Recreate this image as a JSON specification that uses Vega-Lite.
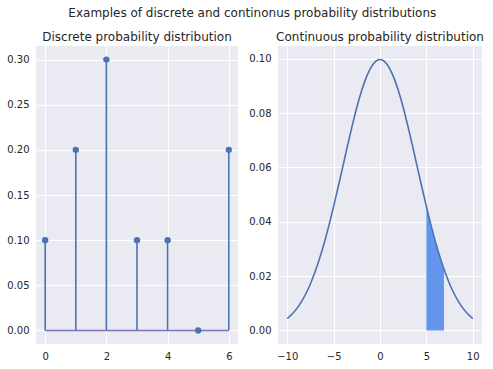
{
  "$schema": "https://vega.github.io/schema/vega-lite/v6.json",
  "padding": {"left": 6, "top": 7, "right": 0, "bottom": 0},
  "background": "white",
  "title": {"text": "Examples of discrete and continonus probability distributions", "anchor": "middle", "frame": "bounds", "fontSize": 12, "font": "DejaVu Sans", "fontWeight": "normal", "color": "#262626", "offset": 11, "dx": 7},
  "config": {
    "font": "DejaVu Sans",
    "view": {"fill": "#EAEAF2", "stroke": null},
    "axis": {"domain": false, "ticks": false, "grid": true, "gridColor": "white", "gridWidth": 1, "labelFontSize": 10, "labelColor": "#262626", "labelPadding": 7, "title": null, "labelFont": "DejaVu Sans"},
    "title": {"fontSize": 12, "fontWeight": "normal", "color": "#262626", "offset": 2, "font": "DejaVu Sans"}
  },
  "datasets": {
    "pmf": [
      {"k": 0, "p": 0.1}, {"k": 1, "p": 0.2}, {"k": 2, "p": 0.3}, {"k": 3, "p": 0.1},
      {"k": 4, "p": 0.1}, {"k": 5, "p": 0.0}, {"k": 6, "p": 0.2}
    ],
    "pdf": [
      {"x": -10, "y": 0.00438}, {"x": -9.5, "y": 0.00594}, {"x": -9, "y": 0.00793}, {"x": -8.5, "y": 0.01043},
      {"x": -8, "y": 0.0135}, {"x": -7.5, "y": 0.0172}, {"x": -7, "y": 0.02157}, {"x": -6.5, "y": 0.02663},
      {"x": -6, "y": 0.03238}, {"x": -5.5, "y": 0.03875}, {"x": -5, "y": 0.04566}, {"x": -4.5, "y": 0.05297},
      {"x": -4, "y": 0.06049}, {"x": -3.5, "y": 0.06802}, {"x": -3, "y": 0.07528}, {"x": -2.5, "y": 0.08204},
      {"x": -2, "y": 0.08802}, {"x": -1.5, "y": 0.09296}, {"x": -1, "y": 0.09667}, {"x": -0.5, "y": 0.09896},
      {"x": 0, "y": 0.09974},
      {"x": 0.5, "y": 0.09896}, {"x": 1, "y": 0.09667}, {"x": 1.5, "y": 0.09296}, {"x": 2, "y": 0.08802},
      {"x": 2.5, "y": 0.08204}, {"x": 3, "y": 0.07528}, {"x": 3.5, "y": 0.06802}, {"x": 4, "y": 0.06049},
      {"x": 4.5, "y": 0.05297}, {"x": 5, "y": 0.04566}, {"x": 5.5, "y": 0.03875}, {"x": 6, "y": 0.03238},
      {"x": 6.5, "y": 0.02663}, {"x": 7, "y": 0.02157}, {"x": 7.5, "y": 0.0172}, {"x": 8, "y": 0.0135},
      {"x": 8.5, "y": 0.01043}, {"x": 9, "y": 0.00793}, {"x": 9.5, "y": 0.00594}, {"x": 10, "y": 0.00438}
    ],
    "shade": [
      {"x": 5, "y": 0.04566}, {"x": 5.5, "y": 0.03875}, {"x": 6, "y": 0.03238},
      {"x": 6.5, "y": 0.02663}, {"x": 6.9, "y": 0.02242}
    ],
    "base": [{"x0": 0, "x1": 6, "y0": 0}]
  },
  "spacing": 40,
  "bounds": "flush",
  "hconcat": [
    {
      "width": 202,
      "height": 298,
      "title": "Discrete probability distribution",
      "layer": [
        {
          "data": {"name": "pmf"},
          "mark": {"type": "rule", "color": "#4C72B0", "strokeWidth": 1.6},
          "encoding": {
            "x": {"field": "k", "type": "quantitative", "scale": {"domain": [-0.3, 6.3], "nice": false, "zero": false}, "axis": {"values": [0, 2, 4, 6], "format": "d"}},
            "y": {"field": "p", "type": "quantitative", "scale": {"domain": [-0.015, 0.315], "nice": false, "zero": false}, "axis": {"values": [0, 0.05, 0.1, 0.15, 0.2, 0.25, 0.3], "format": ".2f"}},
            "y2": {"datum": 0}
          }
        },
        {
          "data": {"name": "base"},
          "mark": {"type": "rule", "color": "#8172B2", "strokeWidth": 1.6},
          "encoding": {
            "x": {"field": "x0", "type": "quantitative"},
            "x2": {"field": "x1"},
            "y": {"field": "y0", "type": "quantitative"}
          }
        },
        {
          "data": {"name": "pmf"},
          "mark": {"type": "circle", "color": "#4C72B0", "opacity": 1, "size": 40},
          "encoding": {
            "x": {"field": "k", "type": "quantitative"},
            "y": {"field": "p", "type": "quantitative"}
          }
        }
      ]
    },
    {
      "width": 204,
      "height": 298,
      "title": "Continuous probability distribution",
      "layer": [
        {
          "data": {"name": "shade"},
          "mark": {"type": "area", "color": "#6495ED", "opacity": 1, "interpolate": "monotone"},
          "encoding": {
            "x": {"field": "x", "type": "quantitative", "scale": {"domain": [-11, 11], "nice": false, "zero": false}, "axis": {"values": [-10, -5, 0, 5, 10], "format": "d"}},
            "y": {"field": "y", "type": "quantitative", "scale": {"domain": [-0.005, 0.1047], "nice": false, "zero": false}, "axis": {"values": [0, 0.02, 0.04, 0.06, 0.08, 0.1], "format": ".2f"}},
            "y2": {"datum": 0}
          }
        },
        {
          "data": {"name": "pdf"},
          "mark": {"type": "line", "color": "#4C72B0", "strokeWidth": 1.6, "interpolate": "monotone"},
          "encoding": {
            "x": {"field": "x", "type": "quantitative"},
            "y": {"field": "y", "type": "quantitative"}
          }
        }
      ]
    }
  ]
}
